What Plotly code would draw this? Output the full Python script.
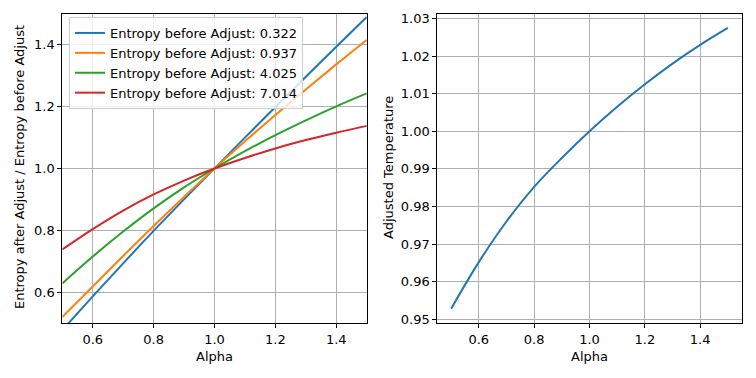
import plotly.graph_objects as go

alpha = [0.5, 0.6, 0.7, 0.8, 0.9, 1.0, 1.1, 1.2, 1.3, 1.4, 1.5]

entropy_labels = ["Entropy before Adjust: 0.322", "Entropy before Adjust: 0.937",
                  "Entropy before Adjust: 4.025", "Entropy before Adjust: 7.014"]
ratio_0322 = [0.477, 0.586, 0.693, 0.798, 0.900, 1.0, 1.100, 1.199, 1.297, 1.394, 1.490]
ratio_0937 = [0.519, 0.618, 0.717, 0.814, 0.908, 1.0, 1.088, 1.173, 1.256, 1.337, 1.416]
ratio_4025 = [0.628, 0.715, 0.796, 0.871, 0.939, 1.0, 1.056, 1.108, 1.156, 1.201, 1.243]
ratio_7014 = [0.738, 0.804, 0.864, 0.916, 0.961, 1.0, 1.034, 1.065, 1.092, 1.116, 1.138]

adjusted_temp = [0.9528, 0.9652, 0.9760, 0.9852, 0.9929, 1.0000, 1.0065, 1.0125, 1.0180, 1.0230, 1.0275]

colors = ["#1f77b4", "#ff7f0e", "#2ca02c", "#d62728"]
FONT = "DejaVu Sans"
FS = 13
W, H = 756, 378

fig = go.Figure()
for lab, ys, c in zip(entropy_labels, [ratio_0322, ratio_0937, ratio_4025, ratio_7014], colors):
    fig.add_trace(go.Scatter(x=alpha, y=ys, mode="lines", name=lab,
                             line=dict(color=c, width=2, shape="spline", smoothing=1.0),
                             xaxis="x", yaxis="y"))
fig.add_trace(go.Scatter(x=alpha, y=adjusted_temp, mode="lines", showlegend=False,
                         line=dict(color=colors[0], width=2, shape="spline", smoothing=1.0),
                         xaxis="x2", yaxis="y2"))

yb, yt = (H - 323) / H, (H - 14) / H
common = dict(showline=True, linecolor="black", linewidth=1, mirror=True,
              ticks="outside", ticklen=4, tickcolor="black", automargin=False,
              showgrid=True, gridcolor="#b0b0b0", gridwidth=1, zeroline=False,
              tickfont=dict(family=FONT, size=FS, color="black"))

def title(text, x, y, angle=0):
    return dict(text=text, x=x / W, y=(H - y) / H, xref="paper", yref="paper",
                xanchor="center", yanchor="middle", showarrow=False, textangle=angle,
                font=dict(family=FONT, size=FS, color="black"))

fig.update_layout(
    width=W, height=H, margin=dict(l=0, r=0, t=0, b=0),
    paper_bgcolor="white", plot_bgcolor="white",
    font=dict(family=FONT, size=FS, color="black"),
    xaxis=dict(domain=[62.3 / W, 366.7 / W], range=[0.5, 1.5],
               tickvals=[0.6, 0.8, 1.0, 1.2, 1.4], tickformat=".1f", anchor="y", **common),
    yaxis=dict(domain=[yb, yt], range=[0.5, 1.5],
               tickvals=[0.6, 0.8, 1.0, 1.2, 1.4], tickformat=".1f", anchor="x", **common),
    xaxis2=dict(domain=[437.3 / W, 741.7 / W], range=[0.45, 1.55],
                tickvals=[0.6, 0.8, 1.0, 1.2, 1.4], tickformat=".1f", anchor="y2", **common),
    yaxis2=dict(domain=[yb, yt], range=[0.9490, 1.0312],
                tickvals=[0.95, 0.96, 0.97, 0.98, 0.99, 1.00, 1.01, 1.02, 1.03],
                tickformat=".2f", anchor="x2", **common),
    legend=dict(x=69 / W, y=(H - 17) / H, xanchor="left", yanchor="top",
                bgcolor="rgba(255,255,255,0.8)", bordercolor="#cccccc", borderwidth=1,
                font=dict(family=FONT, size=FS, color="black"),
                tracegroupgap=0, itemwidth=30),
    annotations=[
        title("Alpha", 214.5, 356),
        title("Alpha", 589.5, 356),
        title("Entropy after Adjust / Entropy before Adjust", 20, 167, -90),
        title("Adjusted Temperature", 388, 168, -90),
    ],
)

fig.write_html("out.html", config={"displayModeBar": False},
               post_script="document.body.style.margin='0';")
